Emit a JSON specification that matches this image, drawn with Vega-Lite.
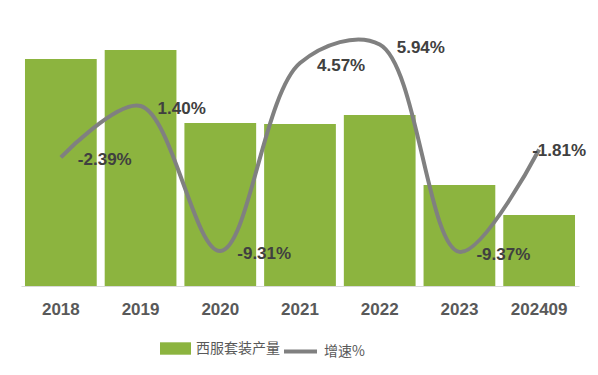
{
  "$schema": "https://vega.github.io/schema/vega-lite/v6.json",
  "width": 558,
  "height": 266,
  "padding": {"left": 21, "top": 20, "right": 19, "bottom": 0},
  "background": "white",
  "config": {"view": {"stroke": null}, "font": "Liberation Sans"},
  "data": {
    "values": [
      {"year": "2018", "output": 2.27, "growth": -2.39, "label": "-2.39%"},
      {"year": "2019", "output": 2.36, "growth": 1.40, "label": "1.40%"},
      {"year": "2020", "output": 1.63, "growth": -9.31, "label": "-9.31%"},
      {"year": "2021", "output": 1.62, "growth": 4.57, "label": "4.57%"},
      {"year": "2022", "output": 1.71, "growth": 5.94, "label": "5.94%"},
      {"year": "2023", "output": 1.01, "growth": -9.37, "label": "-9.37%"},
      {"year": "202409", "output": 0.71, "growth": -1.81, "label": "-1.81%"}
    ]
  },
  "encoding": {
    "x": {
      "field": "year",
      "type": "ordinal",
      "sort": null,
      "scale": {"paddingInner": 0.1, "paddingOuter": 0.05},
      "axis": {
        "title": null,
        "labelAngle": 0,
        "labelFont": "Liberation Sans",
        "labelFontSize": 17,
        "labelFontWeight": "bold",
        "labelColor": "#595959",
        "labelPadding": 15,
        "ticks": false,
        "domainColor": "#d9d9d9",
        "domainWidth": 1
      }
    }
  },
  "layer": [
    {
      "mark": {"type": "bar", "color": "#8CB43F"},
      "encoding": {
        "y": {"field": "output", "type": "quantitative", "scale": {"domain": [0, 2.66]}, "axis": null},
        "color": {
          "datum": "西服套装产量",
          "type": "nominal",
          "scale": {"range": ["#8CB43F"]},
          "legend": {
            "title": null,
            "orient": "none",
            "legendX": 139,
            "legendY": 313,
            "symbolType": "M-1,-0.4H1V0.4H-1Z",
            "symbolSize": 961,
            "symbolOpacity": 1,
            "symbolStrokeWidth": 0,
            "labelFont": "Noto Sans CJK SC",
            "labelFontSize": 14,
            "labelColor": "#595959",
            "labelOffset": 5
          }
        }
      }
    },
    {
      "mark": {"type": "line", "interpolate": "catmull-rom", "strokeWidth": 4, "color": "#808080"},
      "encoding": {
        "y": {"field": "growth", "type": "quantitative", "scale": {"domain": [-11.89, 7.75]}, "axis": null},
        "color": {
          "datum": "增速%",
          "type": "nominal",
          "scale": {"range": ["#808080"]},
          "legend": {
            "title": null,
            "orient": "none",
            "legendX": 261,
            "legendY": 313,
            "symbolType": "stroke",
            "symbolSize": 1089,
            "symbolStrokeWidth": 4,
            "labelFont": "Noto Sans CJK SC",
            "labelFontSize": 14,
            "labelColor": "#595959",
            "labelOffset": 5
          }
        }
      }
    },
    {
      "transform": [{"filter": "datum.year != '202409'"}],
      "mark": {"type": "text", "align": "left", "baseline": "middle", "dx": 17, "dy": 3, "fontSize": 17, "fontWeight": "bold", "color": "#404040", "font": "Liberation Sans"},
      "encoding": {
        "y": {"field": "growth", "type": "quantitative", "scale": {"domain": [-11.89, 7.75]}, "axis": null},
        "text": {"field": "label"}
      }
    },
    {
      "transform": [{"filter": "datum.year == '202409'"}],
      "mark": {"type": "text", "align": "left", "baseline": "middle", "dx": -7, "dy": 2, "fontSize": 17, "fontWeight": "bold", "color": "#404040", "font": "Liberation Sans"},
      "encoding": {
        "y": {"field": "growth", "type": "quantitative", "scale": {"domain": [-11.89, 7.75]}, "axis": null},
        "text": {"field": "label"}
      }
    }
  ],
  "resolve": {"scale": {"y": "independent", "color": "independent"}}
}
